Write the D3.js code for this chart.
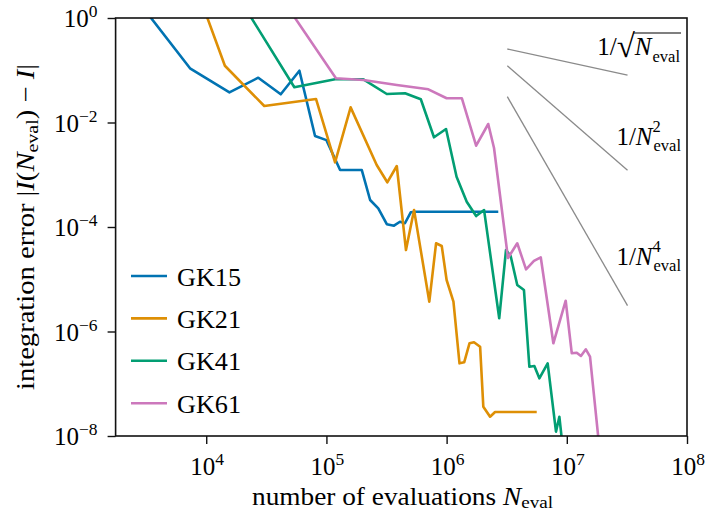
<!DOCTYPE html>
<html><head><meta charset="utf-8">
<script src="https://cdn.jsdelivr.net/npm/d3@7"></script>
<style>
body{margin:0;background:#fff}
svg text{font-family:"Liberation Serif","DejaVu Serif",serif;fill:#000}
</style>
</head><body>
<svg id="c" width="712" height="512"></svg>
<script>
// ---------------- data ----------------
const seriesNames = ["GK15", "GK21", "GK41", "GK61"];
const gk15N   = [2.8e3, 7.33e3, 1.56e4, 2.71e4, 4.17e4, 5.96e4, 8.04e4, 1.0e5, 1.30e5, 1.97e5, 2.31e5, 2.70e5, 3.18e5, 3.65e5, 4.09e5, 4.50e5, 5.03e5, 5.46e5, 2.69e6];
const gk15Err = [1.9, 0.109, 0.0378, 0.072, 0.0347, 0.098, 5.5e-3, 4.6e-3, 1.23e-3, 1.23e-3, 3.29e-4, 2.28e-4, 1.13e-4, 1.06e-4, 1.26e-4, 1.18e-4, 1.91e-4, 1.96e-4, 1.96e-4];
const gk21N   = [8.5e3, 1.43e4, 3.04e4, 8.19e4, 1.18e5, 1.59e5, 2.62e5, 3.21e5, 3.85e5, 4.59e5, 5.36e5, 7.18e5, 8.17e5, 9.11e5, 1.0e6, 1.14e6, 1.28e6, 1.40e6, 1.55e6, 1.69e6, 1.90e6, 2.02e6, 2.30e6, 2.53e6, 5.62e6];
const gk21Err = [3.2, 0.122, 0.0207, 0.0282, 1.73e-3, 0.0195, 1.54e-3, 7.17e-4, 1.47e-3, 3.63e-5, 2.11e-4, 3.72e-6, 4.88e-5, 4.33e-5, 9.68e-6, 3.72e-6, 2.46e-7, 2.57e-7, 5.95e-7, 6.21e-7, 5.12e-7, 3.64e-8, 2.34e-8, 2.88e-8, 2.88e-8];
const gk41N   = [1.9e4, 5.41e4, 1.18e5, 2.03e5, 3.18e5, 4.51e5, 6.10e5, 7.85e5, 9.89e5, 1.21e6, 1.47e6, 1.76e6, 2.05e6, 2.74e6, 3.12e6, 3.41e6, 3.87e6, 4.40e6, 4.88e6, 5.37e6, 5.91e6, 6.93e6, 8.13e6, 8.67e6, 9.49e6];
const gk41Err = [2.3, 0.0472, 0.0671, 0.0671, 0.0351, 0.0362, 0.0278, 5.21e-3, 7.51e-3, 9.18e-4, 3.05e-4, 1.62e-4, 2.11e-4, 1.79e-6, 3.63e-5, 2.79e-5, 7.76e-6, 6.22e-6, 2.12e-7, 2.19e-7, 1.27e-7, 2.46e-7, 1.21e-8, 2.34e-8, 3.5e-9];
const gk61N   = [4.53e4, 1.20e5, 2.03e5, 3.85e5, 7.05e5, 1.0e6, 1.34e6, 1.76e6, 2.22e6, 2.48e6, 3.24e6, 3.87e6, 4.58e6, 5.33e6, 6.07e6, 7.73e6, 9.79e6, 1.10e7, 1.21e7, 1.31e7, 1.44e7, 1.56e7, 1.91e7];
const gk61Err = [1.91, 0.0701, 0.0651, 0.0522, 0.0432, 0.0291, 0.0291, 3.60e-3, 9.36e-3, 3.25e-3, 2.55e-5, 4.88e-5, 1.55e-5, 2.24e-5, 2.63e-5, 5.95e-7, 3.88e-6, 3.83e-7, 3.93e-7, 3.40e-7, 4.56e-7, 3.30e-7, 3.5e-9];

// reference slopes (two end points each)
const refN     = [3.2e6, 3.2e7];
const refSqrt  = [0.255, 0.0806];
const refInv2  = [0.122, 0.00122];
const refInv4  = [0.0312, 3.12e-6];
const refSup   = ["", "2", "4"];

const xTicks   = [1e4, 1e5, 1e6, 1e7, 1e8];
const xTickExp = ["4", "5", "6", "7", "8"];
const yTicks   = [1, 1e-2, 1e-4, 1e-6, 1e-8];
const yTickExp = ["0", "\u22122", "\u22124", "\u22126", "\u22128"];

// ---------------- layout ----------------
const colors = ["#0173b2", "#de8f05", "#029e73", "#cc78bc"];
const L = 115.6, R = 687, T = 18, B = 436;
const FS = 25, SUB = 17.5, SUB2 = 16.5;

const svg = d3.select("#c");
const x = d3.scaleLog().domain([1.762e3, 1e8]).range([L, R]);
const y = d3.scaleLog().domain([1e-8, 1]).range([B, T]);

svg.append("defs").append("clipPath").attr("id", "clip")
  .append("rect").attr("x", L).attr("y", T).attr("width", R - L).attr("height", B - T);

const plot = svg.append("g").attr("clip-path", "url(#clip)");

// reference lines
const refVals = [refSqrt, refInv2, refInv4];
refVals.forEach(v => {
  plot.append("path")
    .attr("d", d3.line().x(d => x(d[0])).y(d => y(d[1]))(refN.map((n, i) => [n, v[i]])))
    .attr("fill", "none").attr("stroke", "#8a8a8a").attr("stroke-width", 1.3);
});

// series
const series = [[gk15N, gk15Err], [gk21N, gk21Err], [gk41N, gk41Err], [gk61N, gk61Err]];
const line = d3.line().x(d => x(d[0])).y(d => y(d[1]));
series.forEach((s, k) => {
  plot.append("path")
    .attr("d", line(s[0].map((n, i) => [n, s[1][i]])))
    .attr("fill", "none").attr("stroke", colors[k]).attr("stroke-width", 2.6)
    .attr("stroke-linejoin", "round");
});

// axes
const xAxis = svg.append("g").attr("transform", `translate(0,${B})`)
  .call(d3.axisBottom(x).tickValues(xTicks).tickSize(8).tickFormat(""));
const yAxis = svg.append("g").attr("transform", `translate(${L},0)`)
  .call(d3.axisLeft(y).tickValues(yTicks).tickSize(8).tickFormat(""));
[xAxis, yAxis].forEach(a => {
  a.select(".domain").remove();
  a.selectAll(".tick line").attr("stroke", "#111").attr("stroke-width", 1.4);
});

// tick labels
xTicks.forEach((t, i) => {
  const tx = svg.append("text").attr("x", x(t) + 1).attr("y", B + 39)
    .attr("text-anchor", "middle").attr("font-size", FS);
  tx.append("tspan").text("10");
  tx.append("tspan").attr("dy", -10).attr("font-size", SUB).text(xTickExp[i]);
});
yTicks.forEach((t, i) => {
  const tx = svg.append("text").attr("x", L - 18).attr("y", y(t) + 9)
    .attr("text-anchor", "end").attr("font-size", FS);
  tx.append("tspan").text("10");
  tx.append("tspan").attr("dy", -10).attr("font-size", SUB).text(yTickExp[i]);
});

// frame
svg.append("rect").attr("x", L).attr("y", T).attr("width", R - L).attr("height", B - T)
  .attr("fill", "none").attr("stroke", "#111").attr("stroke-width", 1.6);

// axis labels
const xl = svg.append("text").attr("x", 252).attr("y", 505)
  .attr("font-size", FS).attr("textLength", 301).attr("lengthAdjust", "spacingAndGlyphs");
xl.append("tspan").text("number of evaluations ");
xl.append("tspan").attr("font-style", "italic").text("N");
xl.append("tspan").attr("dy", 3).attr("font-size", SUB).text("eval");

const yl = svg.append("text").attr("transform", "translate(34,390) rotate(-90)")
  .attr("font-size", FS).attr("textLength", 326).attr("lengthAdjust", "spacingAndGlyphs");
yl.append("tspan").text("integration error |");
yl.append("tspan").attr("font-style", "italic").text("I");
yl.append("tspan").text("(");
yl.append("tspan").attr("font-style", "italic").text("N");
yl.append("tspan").attr("dy", 4).attr("font-size", SUB).text("eval");
yl.append("tspan").attr("dy", -4).text(") \u2212 ");
yl.append("tspan").attr("font-style", "italic").text("I");
yl.append("tspan").text("|");

// legend
seriesNames.forEach((name, k) => {
  const cy = 276 + k * 42.4;
  svg.append("line").attr("x1", 131).attr("x2", 167).attr("y1", cy).attr("y2", cy)
    .attr("stroke", colors[k]).attr("stroke-width", 2.6);
  svg.append("text").attr("x", 177).attr("y", cy + 9.5).attr("font-size", FS)
    .attr("textLength", 64).attr("lengthAdjust", "spacingAndGlyphs").text(name);
});

// reference line labels (one text element each)
function refLabel(baseY, sup, sqrt) {
  const g = svg.append("g");
  const t = g.append("text").attr("x", 0).attr("y", 0).attr("font-size", FS);
  t.append("tspan").text("1/");
  if (sqrt) t.append("tspan").attr("font-size", 33).attr("dy", 2).text("\u221A");
  t.append("tspan").attr("font-style", "italic").attr("dy", sqrt ? -2 : 0).text("N");
  const nChars = t.node().getNumberOfChars();
  const w = t.node().getEndPositionOfChar(nChars - 1).x;
  let supW = 0;
  if (sup) {
    const sp = t.append("tspan").attr("dy", -12.5).attr("font-size", SUB2).text(sup);
    supW = sp.node().getComputedTextLength();
  }
  const sb = t.append("tspan").attr("x", w + 1).attr("y", 6.5).attr("font-size", SUB2).text("eval");
  const subW = sb.node().getComputedTextLength();
  let wTot = w + 1 + Math.max(subW, supW);
  if (sqrt) {
    const sx = t.node().getEndPositionOfChar(2).x;
    g.append("line").attr("x1", sx - 1.2).attr("x2", wTot + 1).attr("y1", -22).attr("y2", -22)
      .attr("stroke", "#000").attr("stroke-width", 1.2);
    wTot += 1;
  }
  g.attr("transform", `translate(${R - 6 - wTot},${baseY})`);
}
refLabel(y(refSqrt[0]) + 6, refSup[0], true);
refLabel(y(refInv2[0]) + 79, refSup[1], false);
refLabel(y(refInv4[0]) + 168, refSup[2], false);
</script>
</body></html>
